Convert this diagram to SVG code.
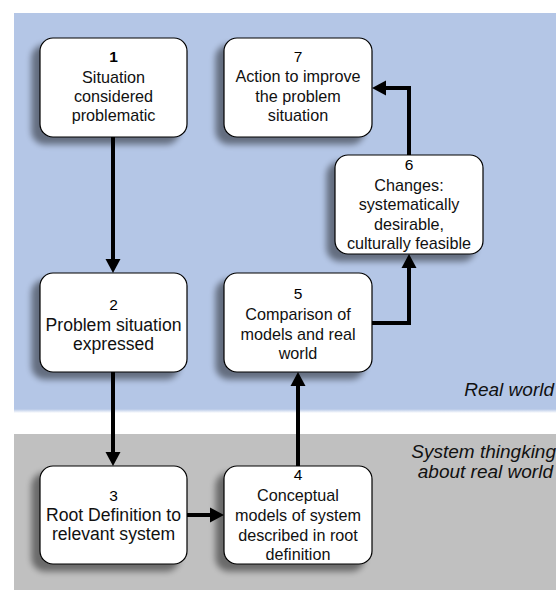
<svg xmlns="http://www.w3.org/2000/svg" width="556" height="590" viewBox="0 0 556 590">
  <defs>
    <style>
      .box { fill: #ffffff; stroke: #000000; stroke-width: 1.2; filter: url(#shadow); }
      .num { font-family: "Liberation Sans", Arial, sans-serif; font-size: 15.5px; fill: #000; text-anchor: middle; }
      .txt { font-family: "Liberation Sans", Arial, sans-serif; font-size: 16.2px; fill: #111; text-anchor: middle; }
      .big { font-size: 17.6px; }
      .lbl { font-family: "Liberation Sans", Arial, sans-serif; font-size: 19px; font-style: italic; fill: #111; text-anchor: end; }
      .conn { fill: none; stroke: #000; stroke-width: 4; marker-end: url(#arrow); }
    </style>
    <filter id="shadow" x="-20%" y="-20%" width="140%" height="140%">
      <feGaussianBlur in="SourceAlpha" stdDeviation="3"/>
      <feOffset dx="-8" dy="7" result="b"/>
      <feComponentTransfer><feFuncA type="linear" slope="0.45"/></feComponentTransfer>
      <feMerge><feMergeNode/><feMergeNode in="SourceGraphic"/></feMerge>
    </filter>
    <linearGradient id="fade" x1="0" y1="0" x2="0" y2="1">
      <stop offset="0" stop-color="#b4c6e6"/>
      <stop offset="1" stop-color="#ffffff"/>
    </linearGradient>
    <marker id="arrow" markerUnits="userSpaceOnUse" markerWidth="16" markerHeight="16" viewBox="0 -8 16 16" refX="0" refY="0" orient="auto">
      <path d="M0,-7.5 L14,0 L0,7.5 z" fill="#000"/>
    </marker>
  </defs>

  <g id="background">
    <rect x="14" y="13" width="542" height="396" fill="#b4c6e6"/>
    <rect x="14" y="409" width="542" height="4" fill="url(#fade)"/>
    <rect x="14" y="434" width="542" height="156" fill="#c0c0c0"/>
    <text class="lbl" x="554" y="396">Real world</text>
    <text class="lbl" x="556" y="458">System thingking</text>
    <text class="lbl" x="553" y="478">about real world</text>
  </g>

  <g id="node1">
    <rect class="box" x="40" y="38" width="147" height="99" rx="13"/>
    <text class="num" x="113.5" y="62" font-weight="bold">1</text>
    <text class="txt" x="113.5" y="83">Situation</text>
    <text class="txt" x="113.5" y="102">considered</text>
    <text class="txt" x="113.5" y="121">problematic</text>
  </g>

  <g id="node7">
    <rect class="box" x="224" y="38" width="148" height="99" rx="13"/>
    <text class="num" x="298" y="62">7</text>
    <text class="txt" x="298" y="82">Action to improve</text>
    <text class="txt" x="298" y="102">the problem</text>
    <text class="txt" x="298" y="121">situation</text>
  </g>

  <g id="node6">
    <rect class="box" x="335" y="155" width="148" height="99" rx="13"/>
    <text class="num" x="409" y="170">6</text>
    <text class="txt" x="409" y="191">Changes:</text>
    <text class="txt" x="409" y="210">systematically</text>
    <text class="txt" x="409" y="230">desirable,</text>
    <text class="txt" x="409" y="249">culturally feasible</text>
  </g>

  <g id="node2">
    <rect class="box" x="40" y="273" width="147" height="99" rx="13"/>
    <text class="num" x="113.5" y="310">2</text>
    <text class="txt big" x="113.5" y="331">Problem situation</text>
    <text class="txt big" x="113.5" y="350">expressed</text>
  </g>

  <g id="node5">
    <rect class="box" x="224" y="273" width="148" height="99" rx="13"/>
    <text class="num" x="298" y="299">5</text>
    <text class="txt" x="298" y="320">Comparison of</text>
    <text class="txt" x="298" y="340">models and real</text>
    <text class="txt" x="298" y="359">world</text>
  </g>

  <g id="node3">
    <rect class="box" x="40" y="466" width="147" height="98" rx="13"/>
    <text class="num" x="113.5" y="501">3</text>
    <text class="txt big" x="113.5" y="521">Root Definition to</text>
    <text class="txt big" x="113.5" y="540">relevant system</text>
  </g>

  <g id="node4">
    <rect class="box" x="224" y="466" width="148" height="98" rx="13"/>
    <text class="num" x="298" y="480">4</text>
    <text class="txt" x="298" y="501">Conceptual</text>
    <text class="txt" x="298" y="521">models of system</text>
    <text class="txt" x="298" y="541">described in root</text>
    <text class="txt" x="298" y="560">definition</text>
  </g>

  <g id="connectors">
    <path class="conn" d="M113,137 V259"/>
    <path class="conn" d="M113,372 V452"/>
    <path class="conn" d="M187,515 H210"/>
    <path class="conn" d="M298,466 V386"/>
    <path class="conn" d="M372,323 H409 V268"/>
    <path class="conn" d="M409,155 V88 H386"/>
  </g>
</svg>
